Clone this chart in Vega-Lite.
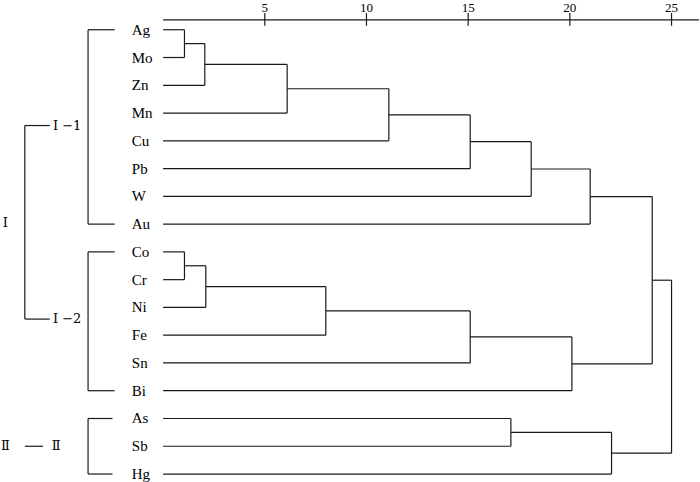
{
  "$schema": "https://vega.github.io/schema/vega-lite/v6.json",
  "width": 700,
  "height": 482,
  "autosize": {"type": "fit", "contains": "padding"},
  "padding": 0,
  "background": "white",
  "config": {"view": {"stroke": null}},
  "datasets": {
    "segs": [
      {"x": 0, "x2": 1.05, "y": 0, "y2": 0},
      {"x": 0, "x2": 1.05, "y": 1, "y2": 1},
      {"x": 0, "x2": 2.05, "y": 2, "y2": 2},
      {"x": 0, "x2": 6.1, "y": 3, "y2": 3},
      {"x": 0, "x2": 11.1, "y": 4, "y2": 4},
      {"x": 0, "x2": 15.1, "y": 5, "y2": 5},
      {"x": 0, "x2": 18.1, "y": 6, "y2": 6},
      {"x": 0, "x2": 21.0, "y": 7, "y2": 7},
      {"x": 0, "x2": 1.05, "y": 8, "y2": 8},
      {"x": 0, "x2": 1.05, "y": 9, "y2": 9},
      {"x": 0, "x2": 2.1, "y": 10, "y2": 10},
      {"x": 0, "x2": 8.0, "y": 11, "y2": 11},
      {"x": 0, "x2": 15.1, "y": 12, "y2": 12},
      {"x": 0, "x2": 20.1, "y": 13, "y2": 13},
      {"x": 0, "x2": 17.1, "y": 14, "y2": 14},
      {"x": 0, "x2": 17.1, "y": 15, "y2": 15},
      {"x": 0, "x2": 22.05, "y": 16, "y2": 16},
      {"x": 1.05, "x2": 2.05, "y": 0.5, "y2": 0.5},
      {"x": 2.05, "x2": 6.1, "y": 1.25, "y2": 1.25},
      {"x": 6.1, "x2": 11.1, "y": 2.125, "y2": 2.125},
      {"x": 11.1, "x2": 15.1, "y": 3.0625, "y2": 3.0625},
      {"x": 15.1, "x2": 18.1, "y": 4.03, "y2": 4.03},
      {"x": 18.1, "x2": 21.0, "y": 5.016, "y2": 5.016},
      {"x": 21.0, "x2": 24.05, "y": 6.008, "y2": 6.008},
      {"x": 1.05, "x2": 2.1, "y": 8.5, "y2": 8.5},
      {"x": 2.1, "x2": 8.0, "y": 9.25, "y2": 9.25},
      {"x": 8.0, "x2": 15.1, "y": 10.125, "y2": 10.125},
      {"x": 15.1, "x2": 20.1, "y": 11.0625, "y2": 11.0625},
      {"x": 20.1, "x2": 24.05, "y": 12.03, "y2": 12.03},
      {"x": 24.05, "x2": 25.0, "y": 9.02, "y2": 9.02},
      {"x": 17.1, "x2": 22.05, "y": 14.5, "y2": 14.5},
      {"x": 22.05, "x2": 25.0, "y": 15.25, "y2": 15.25},
      {"x": 1.05, "x2": 1.05, "y": 0, "y2": 1},
      {"x": 2.05, "x2": 2.05, "y": 0.5, "y2": 2},
      {"x": 6.1, "x2": 6.1, "y": 1.25, "y2": 3},
      {"x": 11.1, "x2": 11.1, "y": 2.125, "y2": 4},
      {"x": 15.1, "x2": 15.1, "y": 3.0625, "y2": 5},
      {"x": 18.1, "x2": 18.1, "y": 4.03, "y2": 6},
      {"x": 21.0, "x2": 21.0, "y": 5.016, "y2": 7},
      {"x": 1.05, "x2": 1.05, "y": 8, "y2": 9},
      {"x": 2.1, "x2": 2.1, "y": 8.5, "y2": 10},
      {"x": 8.0, "x2": 8.0, "y": 9.25, "y2": 11},
      {"x": 15.1, "x2": 15.1, "y": 10.125, "y2": 12},
      {"x": 20.1, "x2": 20.1, "y": 11.0625, "y2": 13},
      {"x": 24.05, "x2": 24.05, "y": 6.008, "y2": 12.03},
      {"x": 17.1, "x2": 17.1, "y": 14, "y2": 15},
      {"x": 22.05, "x2": 22.05, "y": 14.5, "y2": 16},
      {"x": 25.0, "x2": 25.0, "y": 9.02, "y2": 15.25},
      {"x": -3.69, "x2": -3.69, "y": 0, "y2": 7},
      {"x": -3.69, "x2": -2.38, "y": 0, "y2": 0},
      {"x": -3.69, "x2": -2.38, "y": 7, "y2": 7},
      {"x": -3.69, "x2": -3.69, "y": 8, "y2": 13},
      {"x": -3.69, "x2": -2.38, "y": 8, "y2": 8},
      {"x": -3.69, "x2": -2.38, "y": 13, "y2": 13},
      {"x": -3.69, "x2": -3.69, "y": 14, "y2": 16},
      {"x": -3.69, "x2": -2.49, "y": 14, "y2": 14},
      {"x": -3.69, "x2": -2.49, "y": 16, "y2": 16},
      {"x": -6.8, "x2": -6.8, "y": 3.45, "y2": 10.42},
      {"x": -6.8, "x2": -5.57, "y": 3.45, "y2": 3.45},
      {"x": -6.8, "x2": -5.57, "y": 10.42, "y2": 10.42},
      {"x": -6.8, "x2": -5.91, "y": 15, "y2": 15},
      {"x": 0, "x2": 26.35, "y": -0.357, "y2": -0.357},
      {"x": 5, "x2": 5, "y": -0.607, "y2": -0.143},
      {"x": 10, "x2": 10, "y": -0.607, "y2": -0.143},
      {"x": 15, "x2": 15, "y": -0.607, "y2": -0.143},
      {"x": 20, "x2": 20, "y": -0.607, "y2": -0.143},
      {"x": 25, "x2": 25, "y": -0.607, "y2": -0.143}
    ],
    "leaves": [
      {"name": "Ag", "i": 0}, {"name": "Mo", "i": 1}, {"name": "Zn", "i": 2},
      {"name": "Mn", "i": 3}, {"name": "Cu", "i": 4}, {"name": "Pb", "i": 5},
      {"name": "W", "i": 6}, {"name": "Au", "i": 7}, {"name": "Co", "i": 8},
      {"name": "Cr", "i": 9}, {"name": "Ni", "i": 10}, {"name": "Fe", "i": 11},
      {"name": "Sn", "i": 12}, {"name": "Bi", "i": 13}, {"name": "As", "i": 14},
      {"name": "Sb", "i": 15}, {"name": "Hg", "i": 16}
    ],
    "groups": [
      {"label": "Ⅰ −1", "x": -5.42, "i": 3.45},
      {"label": "Ⅰ −2", "x": -5.42, "i": 10.42},
      {"label": "Ⅰ", "x": -7.88, "i": 6.96},
      {"label": "Ⅱ", "x": -7.97, "i": 15},
      {"label": "Ⅱ", "x": -5.47, "i": 15}
    ],
    "ticks": [
      {"v": 5, "t": "5"}, {"v": 10, "t": "10"}, {"v": 15, "t": "15"},
      {"v": 20, "t": "20"}, {"v": 25, "t": "25"}
    ]
  },
  "layer": [
    {
      "data": {"name": "segs"},
      "mark": {"type": "rule", "color": "#1a1a1a", "strokeWidth": 1.2},
      "encoding": {
        "x": {"field": "x", "type": "quantitative", "scale": {"domain": [-8.02, 26.35], "nice": false, "zero": false}, "axis": null},
        "x2": {"field": "x2"},
        "y": {"field": "y", "type": "quantitative", "scale": {"domain": [-1.071, 16.143], "nice": false, "zero": false, "reverse": true}, "axis": null},
        "y2": {"field": "y2"}
      }
    },
    {
      "data": {"name": "leaves"},
      "mark": {"type": "text", "align": "left", "baseline": "middle", "font": "Liberation Serif", "fontSize": 15, "color": "#000000"},
      "encoding": {
        "x": {"datum": -1.54, "type": "quantitative"},
        "y": {"field": "i", "type": "quantitative"},
        "text": {"field": "name"}
      }
    },
    {
      "data": {"name": "groups"},
      "mark": {"type": "text", "align": "left", "baseline": "middle", "font": "DejaVu Serif", "fontSize": 13, "color": "#000000"},
      "encoding": {
        "x": {"field": "x", "type": "quantitative"},
        "y": {"field": "i", "type": "quantitative"},
        "text": {"field": "label"}
      }
    },
    {
      "data": {"name": "ticks"},
      "mark": {"type": "text", "align": "center", "baseline": "alphabetic", "font": "Liberation Serif", "fontSize": 13, "color": "#000000"},
      "encoding": {
        "x": {"field": "v", "type": "quantitative"},
        "y": {"datum": -0.654, "type": "quantitative"},
        "text": {"field": "t"}
      }
    }
  ]
}
